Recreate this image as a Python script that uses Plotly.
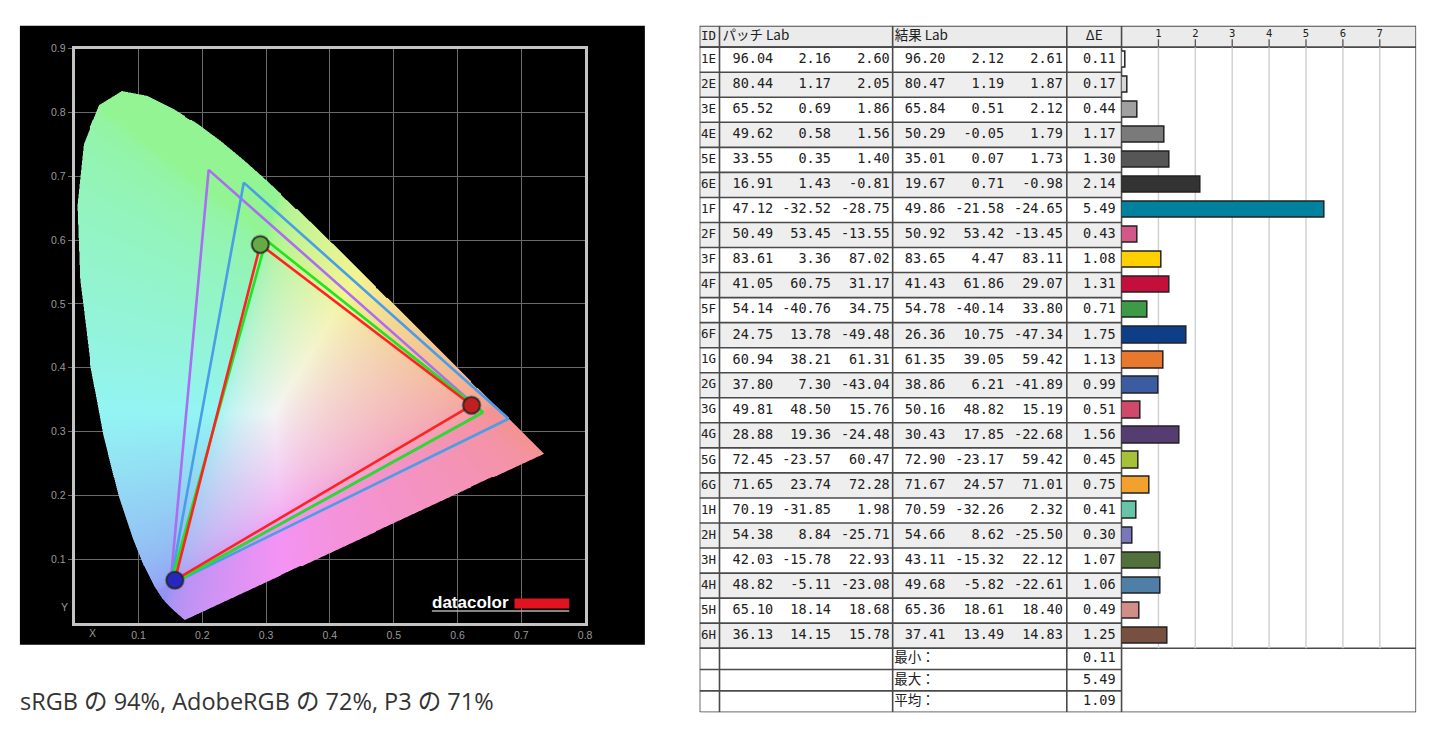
import numpy as np
import plotly.graph_objects as go
import zlib, struct, base64

W, H = 1447, 735
def px(x): return x / W
def py(y): return (H - y) / H

# ---------------- data: chromaticity diagram ----------------
locus_x = [0.1741, 0.1740, 0.1738, 0.1736, 0.1733, 0.1730, 0.1726, 0.1721, 0.1714, 0.1703,
           0.1689, 0.1669, 0.1644, 0.1611, 0.1566, 0.1510, 0.1440, 0.1355, 0.1241, 0.1096,
           0.0913, 0.0687, 0.0454, 0.0235, 0.0082, 0.0039, 0.0139, 0.0389, 0.0743, 0.1142,
           0.1547, 0.1929, 0.2296, 0.2658, 0.3016, 0.3373, 0.3731, 0.4087, 0.4441, 0.4788,
           0.5125, 0.5448, 0.5752, 0.6029, 0.6270, 0.6482, 0.6658, 0.6801, 0.6915, 0.7006,
           0.7079, 0.7140, 0.7190, 0.7230, 0.7260, 0.7300, 0.7320, 0.7334, 0.7347]
locus_y = [0.0050, 0.0050, 0.0049, 0.0049, 0.0048, 0.0048, 0.0048, 0.0048, 0.0051, 0.0058,
           0.0069, 0.0086, 0.0109, 0.0138, 0.0177, 0.0227, 0.0297, 0.0399, 0.0578, 0.0868,
           0.1327, 0.2007, 0.2950, 0.4127, 0.5384, 0.6548, 0.7502, 0.8120, 0.8338, 0.8262,
           0.8059, 0.7816, 0.7543, 0.7243, 0.6923, 0.6589, 0.6245, 0.5896, 0.5547, 0.5202,
           0.4866, 0.4544, 0.4242, 0.3965, 0.3725, 0.3514, 0.3340, 0.3197, 0.3083, 0.2993,
           0.2920, 0.2859, 0.2809, 0.2770, 0.2740, 0.2700, 0.2680, 0.2666, 0.2653]

adobe_x = [0.64, 0.21, 0.15]
adobe_y = [0.33, 0.71, 0.06]
p3_x = [0.68, 0.265, 0.15]
p3_y = [0.32, 0.69, 0.06]
srgb_x = [0.64, 0.30, 0.15]
srgb_y = [0.33, 0.60, 0.06]
meas_x = [0.622, 0.291, 0.157]
meas_y = [0.341, 0.593, 0.067]
meas_colors = ["#bd2020", "#66aa46", "#2626c0"]

diag_xticks = [0.1, 0.2, 0.3, 0.4, 0.5, 0.6, 0.7, 0.8]
diag_yticks = [0.1, 0.2, 0.3, 0.4, 0.5, 0.6, 0.7, 0.8, 0.9]
caption = "sRGB の 94%, AdobeRGB の 72%, P3 の 71%"

# ---------------- data: table ----------------
ids = ["1E", "2E", "3E", "4E", "5E", "6E", "1F", "2F", "3F", "4F", "5F", "6F",
       "1G", "2G", "3G", "4G", "5G", "6G", "1H", "2H", "3H", "4H", "5H", "6H"]
patch_L = [96.04, 80.44, 65.52, 49.62, 33.55, 16.91, 47.12, 50.49, 83.61, 41.05, 54.14, 24.75,
           60.94, 37.80, 49.81, 28.88, 72.45, 71.65, 70.19, 54.38, 42.03, 48.82, 65.10, 36.13]
patch_a = [2.16, 1.17, 0.69, 0.58, 0.35, 1.43, -32.52, 53.45, 3.36, 60.75, -40.76, 13.78,
           38.21, 7.30, 48.50, 19.36, -23.57, 23.74, -31.85, 8.84, -15.78, -5.11, 18.14, 14.15]
patch_b = [2.60, 2.05, 1.86, 1.56, 1.40, -0.81, -28.75, -13.55, 87.02, 31.17, 34.75, -49.48,
           61.31, -43.04, 15.76, -24.48, 60.47, 72.28, 1.98, -25.71, 22.93, -23.08, 18.68, 15.78]
res_L = [96.20, 80.47, 65.84, 50.29, 35.01, 19.67, 49.86, 50.92, 83.65, 41.43, 54.78, 26.36,
         61.35, 38.86, 50.16, 30.43, 72.90, 71.67, 70.59, 54.66, 43.11, 49.68, 65.36, 37.41]
res_a = [2.12, 1.19, 0.51, -0.05, 0.07, 0.71, -21.58, 53.42, 4.47, 61.86, -40.14, 10.75,
         39.05, 6.21, 48.82, 17.85, -23.17, 24.57, -32.26, 8.62, -15.32, -5.82, 18.61, 13.49]
res_b = [2.61, 1.87, 2.12, 1.79, 1.73, -0.98, -24.65, -13.45, 83.11, 29.07, 33.80, -47.34,
         59.42, -41.89, 15.19, -22.68, 59.42, 71.01, 2.32, -25.50, 22.12, -22.61, 18.40, 14.83]
delta_e = [0.11, 0.17, 0.44, 1.17, 1.30, 2.14, 5.49, 0.43, 1.08, 1.31, 0.71, 1.75,
           1.13, 0.99, 0.51, 1.56, 0.45, 0.75, 0.41, 0.30, 1.07, 1.06, 0.49, 1.25]
bar_colors = ["#f6f6f6", "#d6d6d6", "#a0a0a0", "#7a7a7a", "#565656", "#333333",
              "#00829f", "#d2588a", "#ffd000", "#c40e3c", "#3f9a48", "#0e3e88",
              "#e8782e", "#3c5ca2", "#d0496a", "#553d72", "#a6c03a", "#f2a02e",
              "#68c4a8", "#7876bc", "#52703a", "#4f7fa6", "#d08e86", "#775040"]
summary_labels = ["最小：", "最大：", "平均："]
summary_values = [0.11, 5.49, 1.09]
bar_ticks = [1, 2, 3, 4, 5, 6, 7]
header_patch = "パッチ Lab"
header_result = "結果 Lab"

# ---------------- chromaticity gradient image ----------------
def point_in_poly(X, Y, vx, vy):
    inside = np.zeros(X.shape, bool)
    n = len(vx)
    j = n - 1
    with np.errstate(divide="ignore", invalid="ignore"):
        for i in range(n):
            xi, yi, xj, yj = vx[i], vy[i], vx[j], vy[j]
            if yi != yj:
                cond = ((yi > Y) != (yj > Y)) & (X < (xj - xi) * (Y - yi) / (yj - yi) + xi)
                inside ^= cond
            j = i
    return inside

d = 0.00155
nx = int(np.ceil(0.745 / d))
ny = int(np.ceil(0.84 / d))
ss = 2
xs = (np.arange(nx * ss) + 0.5) * d / ss
ys = (np.arange(ny * ss) + 0.5) * d / ss
XX, YY = np.meshgrid(xs, ys)
cover = point_in_poly(XX, YY, locus_x, locus_y).astype(float)
alpha = cover.reshape(ny, ss, nx, ss).mean(axis=(1, 3))

xc = (np.arange(nx) + 0.5) * d
yc = (np.arange(ny) + 0.5) * d
X, Y = np.meshgrid(xc, yc)
Yc = np.maximum(Y, 1e-3)
Xv = X / Yc
Zv = (1 - X - Y) / Yc
M = np.array([[3.2406, -1.5372, -0.4986], [-0.9689, 1.8758, 0.0415], [0.0557, -0.2040, 1.0570]])
rgb = np.stack([M[k, 0] * Xv + M[k, 1] + M[k, 2] * Zv for k in range(3)], axis=-1)
rgb = np.clip(rgb, 0, None)
rgb = rgb / np.maximum(rgb.max(axis=-1, keepdims=True), 1e-9)
rgb = rgb ** (1 / 2.2)
rgb = 0.58 + 0.38 * rgb
img = np.zeros((ny, nx, 4), np.uint8)
img[..., :3] = np.clip(rgb * 255, 0, 255).astype(np.uint8)
img[..., 3] = np.clip(alpha * 255, 0, 255).astype(np.uint8)

def png_bytes(rgba):
    h, w, _ = rgba.shape
    raw = b"".join(b"\x00" + rgba[r].tobytes() for r in range(h))
    def chunk(t, data):
        c = struct.pack(">I", len(data)) + t + data
        return c + struct.pack(">I", zlib.crc32(t + data) & 0xffffffff)
    return (b"\x89PNG\r\n\x1a\n" + chunk(b"IHDR", struct.pack(">IIBBBBB", w, h, 8, 6, 0, 0, 0))
            + chunk(b"IDAT", zlib.compress(raw, 9)) + chunk(b"IEND", b""))

src = "data:image/png;base64," + base64.b64encode(png_bytes(img)).decode()

fig = go.Figure()
fig.add_trace(go.Image(source=src, x0=d / 2, y0=d / 2, dx=d, dy=d, xaxis="x", yaxis="y", hoverinfo="skip"))

def tri(xv, yv, color):
    fig.add_trace(go.Scatter(x=xv + xv[:1], y=yv + yv[:1], mode="lines",
                             line=dict(color=color, width=2.6), xaxis="x", yaxis="y", hoverinfo="skip"))

tri(adobe_x, adobe_y, "#a96ef2")
tri(p3_x, p3_y, "#4a9de6")
tri(srgb_x, srgb_y, "#1fe41f")
tri(meas_x, meas_y, "#ff2222")
fig.add_trace(go.Scatter(x=meas_x, y=meas_y, mode="markers",
                         marker=dict(size=20, color="rgba(40,40,40,0.3)", line=dict(width=0)),
                         xaxis="x", yaxis="y", hoverinfo="skip"))
fig.add_trace(go.Scatter(x=meas_x, y=meas_y, mode="markers",
                         marker=dict(size=16.5, color=meas_colors, line=dict(color="rgba(35,35,35,0.8)", width=1.8)),
                         xaxis="x", yaxis="y", hoverinfo="skip"))

# ---------------- table geometry ----------------
c_id, c_patch, c_res, c_de, c_bar, c_right = 703, 723, 897, 1072, 1127, 1423
t_top, head_h, row_h, sum_h = 20.0, 21.5, 25.25, 21.5
data_top = t_top + head_h
n = len(ids)
row_top = [data_top + i * row_h for i in range(n)]
row_cy = [t + row_h / 2 for t in row_top]
data_bot = data_top + n * row_h
sum_top = [data_bot + i * sum_h for i in range(len(summary_labels))]
sum_cy = [t + sum_h / 2 for t in sum_top]
t_bot = data_bot + len(summary_labels) * sum_h
head_cy = t_top + head_h / 2

shapes = []
shapes.append(dict(type="rect", xref="paper", yref="paper", x0=px(20), x1=px(648), y0=py(644), y1=py(20),
                   fillcolor="black", line=dict(width=0), layer="below"))
for k, op in enumerate([0.10, 0.07, 0.05, 0.03]):
    o = 2 + k * 1.7
    shapes.append(dict(type="rect", xref="x2", yref="y2", x0=c_id + o, x1=c_right + o, y0=t_top + o, y1=t_bot + o,
                       fillcolor=f"rgba(0,0,0,{op})", line=dict(width=0), layer="below"))
shapes.append(dict(type="rect", xref="x2", yref="y2", x0=c_id, x1=c_right, y0=t_top, y1=t_bot,
                   fillcolor="white", line=dict(width=0), layer="below"))
shapes.append(dict(type="rect", xref="x2", yref="y2", x0=c_id, x1=c_right, y0=t_top, y1=data_top,
                   fillcolor="#ebebeb", line=dict(width=0), layer="below"))
for i in range(n):
    if i % 2 == 1:
        shapes.append(dict(type="rect", xref="x2", yref="y2", x0=c_id, x1=c_bar, y0=row_top[i], y1=row_top[i] + row_h,
                           fillcolor="#eeeeee", line=dict(width=0), layer="below"))
for v in bar_ticks:
    shapes.append(dict(type="line", xref="x3", yref="y2", x0=v, x1=v, y0=data_top, y1=data_bot,
                       line=dict(color="#d2d2d2", width=1.5), layer="below"))
    shapes.append(dict(type="line", xref="x3", yref="y2", x0=v, x1=v, y0=data_top - 8, y1=data_top,
                       line=dict(color="#555555", width=1.3), layer="below"))
LC = "#4a4a4a"
LW = 1.6
for yb in row_top[1:] + sum_top + [data_top]:
    shapes.append(dict(type="line", xref="x2", yref="y2", x0=c_id, x1=c_bar, y0=yb, y1=yb,
                       line=dict(color=LC, width=LW), layer="below"))
for yb in [t_top, data_top, data_bot, t_bot]:
    shapes.append(dict(type="line", xref="x2", yref="y2", x0=c_id, x1=c_right, y0=yb, y1=yb,
                       line=dict(color=LC, width=LW), layer="below"))
for xb in [c_id, c_patch, c_res, c_de, c_bar, c_right]:
    shapes.append(dict(type="line", xref="x2", yref="y2", x0=xb, x1=xb, y0=t_top, y1=t_bot,
                       line=dict(color=LC, width=LW), layer="below"))
shapes.append(dict(type="rect", xref="paper", yref="paper", x0=px(517), x1=px(572), y0=py(607.5), y1=py(597.5),
                   fillcolor="#e0141e", line=dict(width=0)))
shapes.append(dict(type="line", xref="paper", yref="paper", x0=px(434), x1=px(572), y0=py(610), y1=py(610),
                   line=dict(color="#b0b0b0", width=1.5)))

fig.add_trace(go.Bar(x=delta_e, y=row_cy, orientation="h", base=0, width=16.5,
                     marker=dict(color=bar_colors, line=dict(color="#222222", width=1.5)),
                     xaxis="x3", yaxis="y2", hoverinfo="skip"))

MONO = "DejaVu Sans Mono, Noto Sans CJK JP, monospace"
JP = "Noto Sans CJK JP, DejaVu Sans Mono"
TXT = "#202020"
def col_text(xpos, vals, ys, pos="middle left", size=13.5, axis="x2", fam=MONO):
    fig.add_trace(go.Scatter(x=[xpos] * len(vals) if not isinstance(xpos, list) else xpos, y=ys,
                             text=vals, mode="text", textposition=pos,
                             textfont=dict(family=fam, size=size, color=TXT),
                             xaxis=axis, yaxis="y2", hoverinfo="skip"))

fmt = lambda arr: [f"{v:.2f}" for v in arr]
col_text(c_id + 1.5, ids, row_cy, pos="middle right", size=12.5)
col_text(777, fmt(patch_L), row_cy)
col_text(835, fmt(patch_a), row_cy)
col_text(894, fmt(patch_b), row_cy)
col_text(950, fmt(res_L), row_cy)
col_text(1009, fmt(res_a), row_cy)
col_text(1068, fmt(res_b), row_cy)
col_text(1121, fmt(delta_e), row_cy)
col_text(c_res + 1.5, summary_labels, sum_cy, pos="middle right", size=13.5, fam=JP)
col_text(1121, fmt(summary_values), sum_cy)
col_text(c_id + 1.5, ["ID"], [head_cy], pos="middle right", size=12.5)
col_text(c_patch + 3, [header_patch], [head_cy], pos="middle right", size=13.5, fam=JP)
col_text(c_res + 2, [header_result], [head_cy], pos="middle right", size=13.5, fam=JP)
col_text((c_de + c_bar) / 2, ["ΔE"], [head_cy], pos="middle center", size=13.5, fam=JP)
col_text(bar_ticks, [str(v) for v in bar_ticks], [t_top + 8.5] * len(bar_ticks), pos="middle center",
         size=10.5, axis="x3")

annotations = [
    dict(text="X", xref="paper", yref="paper", x=px(93), y=py(632), xanchor="center", yanchor="middle",
         showarrow=False, font=dict(family="Liberation Sans, Arial", size=10.5, color="#9a9a9a")),
    dict(text="Y", xref="paper", yref="paper", x=px(65), y=py(606), xanchor="center", yanchor="middle",
         showarrow=False, font=dict(family="Liberation Sans, Arial", size=10.5, color="#9a9a9a")),
    dict(text="<b>datacolor</b>", xref="paper", yref="paper", x=px(432), y=py(601.5), xanchor="left",
         yanchor="middle", showarrow=False, font=dict(family="Liberation Sans, Arial", size=17, color="white")),
    dict(text=caption, xref="paper", yref="paper", x=px(18), y=py(701), xanchor="left", yanchor="middle",
         showarrow=False, font=dict(family="Open Sans, Noto Sans CJK JP", size=23.5, color="#333333")),
]

axis_font = dict(family="Liberation Sans, Arial", size=10.5, color="#9a9a9a")
fig.update_layout(
    width=W, height=H, margin=dict(l=0, r=0, t=0, b=0),
    paper_bgcolor="white", plot_bgcolor="rgba(0,0,0,0)", showlegend=False,
    shapes=shapes, annotations=annotations, bargap=0,
    xaxis=dict(domain=[px(74), px(589)], range=[0, 0.8], autorange=False, tickvals=diag_xticks,
               ticktext=[f"{v:.1f}" for v in diag_xticks], showgrid=True, gridcolor="#6a6a6a", gridwidth=1.2,
               showline=True, mirror=True, linecolor="#c4c4c4", linewidth=3, zeroline=False,
               ticks="", tickfont=axis_font, anchor="y", fixedrange=True),
    yaxis=dict(domain=[py(622), py(43)], range=[0, 0.9], autorange=False, tickvals=diag_yticks,
               ticktext=[f"{v:.1f}" for v in diag_yticks], showgrid=True, gridcolor="#6a6a6a", gridwidth=1.2,
               showline=True, mirror=True, linecolor="#c4c4c4", linewidth=3, zeroline=False,
               ticks="outside", ticklen=4, tickcolor="#6a6a6a", tickfont=axis_font, anchor="x",
               fixedrange=True),
    xaxis2=dict(domain=[px(c_id), px(c_right)], range=[c_id, c_right], visible=False, anchor="y2", fixedrange=True),
    yaxis2=dict(domain=[py(t_bot), py(t_top)], range=[t_bot, t_top], visible=False, anchor="x2", fixedrange=True),
    xaxis3=dict(domain=[px(c_bar), px(c_right)], range=[0, (c_right - c_bar) / 37.07], visible=False,
                anchor="y2", fixedrange=True),
)
fig.write_html("out.html", config={"displayModeBar": False},
               post_script="document.body.style.margin='0';document.body.style.overflow='hidden';")
